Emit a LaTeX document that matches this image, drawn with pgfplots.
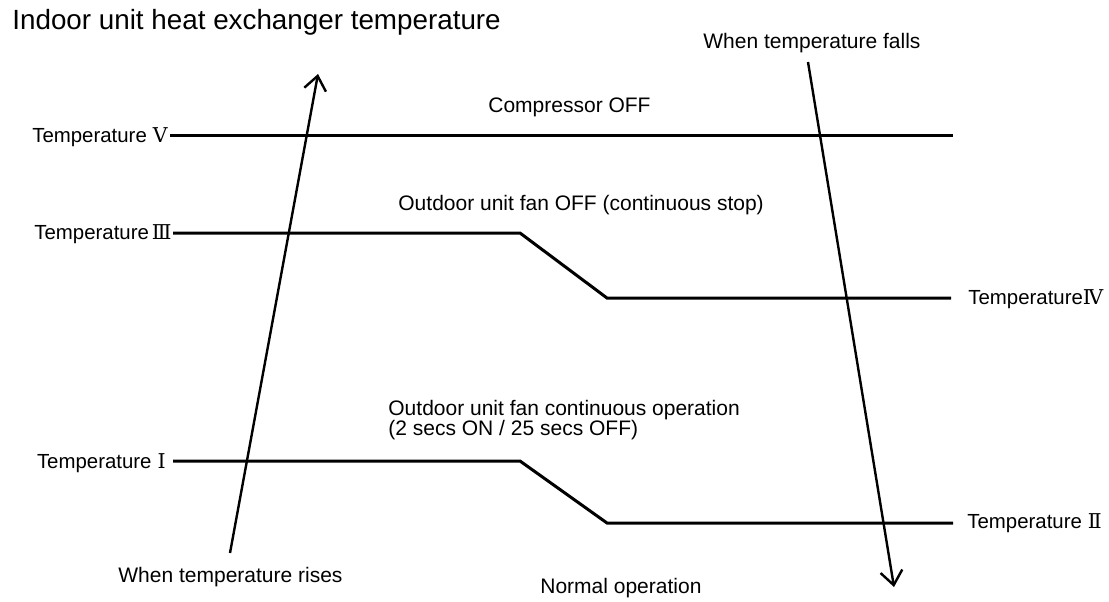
\documentclass[border=0pt]{standalone}
\usepackage{fontspec}
\setmainfont{Liberation Sans}
\newfontfamily\romfont{DejaVu Serif}
\usepackage{pgfplots}
\pgfplotsset{compat=1.18}
\usetikzlibrary{arrows.meta}
\begin{document}
\begin{tikzpicture}
\begin{axis}[
  hide axis, scale only axis, clip=false,
  width=554.5pt, height=300.5pt,
  xmin=0, xmax=1109, ymin=0, ymax=601, y dir=reverse,
]
% level lines
\addplot[black, line width=1.5pt] coordinates {(170,135) (953,135)};
\addplot[black, line width=1.5pt] coordinates {(173,233) (520,233) (607,298) (951,298)};
\addplot[black, line width=1.5pt] coordinates {(173,461) (520,461) (607,523) (953,523)};
% arrows
\addplot[black, line width=1.2pt, -{Straight Barb[length=7pt,width=11pt,line width=1.2pt]}] coordinates {(230,553) (318,74)};
\addplot[black, line width=1.2pt, -{Straight Barb[length=7pt,width=11pt,line width=1.2pt]}] coordinates {(808,62) (894,587)};
% texts
\node[anchor=base west, font=\fontsize{13.9pt}{16pt}\selectfont, inner sep=0pt] at (axis cs:12,29) {Indoor unit heat exchanger temperature};
\begin{scope}[every node/.style={inner sep=0pt, font=\fontsize{10.5pt}{12pt}\selectfont}]
\node[anchor=base west] at (axis cs:703,48) {When temperature falls};
\node[anchor=base west] at (axis cs:488,112) {Compressor OFF};
\node[anchor=base west] at (axis cs:398,210) {Outdoor unit fan OFF (continuous stop)};
\node[anchor=base west] at (axis cs:388,415) {Outdoor unit fan continuous operation};
\node[anchor=base west] at (axis cs:388,435) {(2 secs ON / 25 secs OFF)};
\node[anchor=base west] at (axis cs:118,582) {When temperature rises};
\node[anchor=base west] at (axis cs:540,593) {Normal operation};
\end{scope}
\begin{scope}[every node/.style={inner sep=0pt, font=\fontsize{10.2pt}{12pt}\selectfont}]
\node[anchor=base east] at (axis cs:168,142) {Temperature\hspace{3pt}{\romfont Ⅴ}};
\node[anchor=base east] at (axis cs:172,239) {Temperature\hspace{1.5pt}{\romfont Ⅲ}};
\node[anchor=base east] at (axis cs:166,468) {Temperature\hspace{3pt}{\romfont Ⅰ}};
\node[anchor=base west] at (axis cs:968,304) {Temperature{\romfont Ⅳ}};
\node[anchor=base west] at (axis cs:967,528) {Temperature\hspace{3pt}{\romfont Ⅱ}};
\end{scope}
\end{axis}
\pgfresetboundingbox
\path[use as bounding box] (current axis.south west) rectangle (current axis.north east);
\end{tikzpicture}
\end{document}
